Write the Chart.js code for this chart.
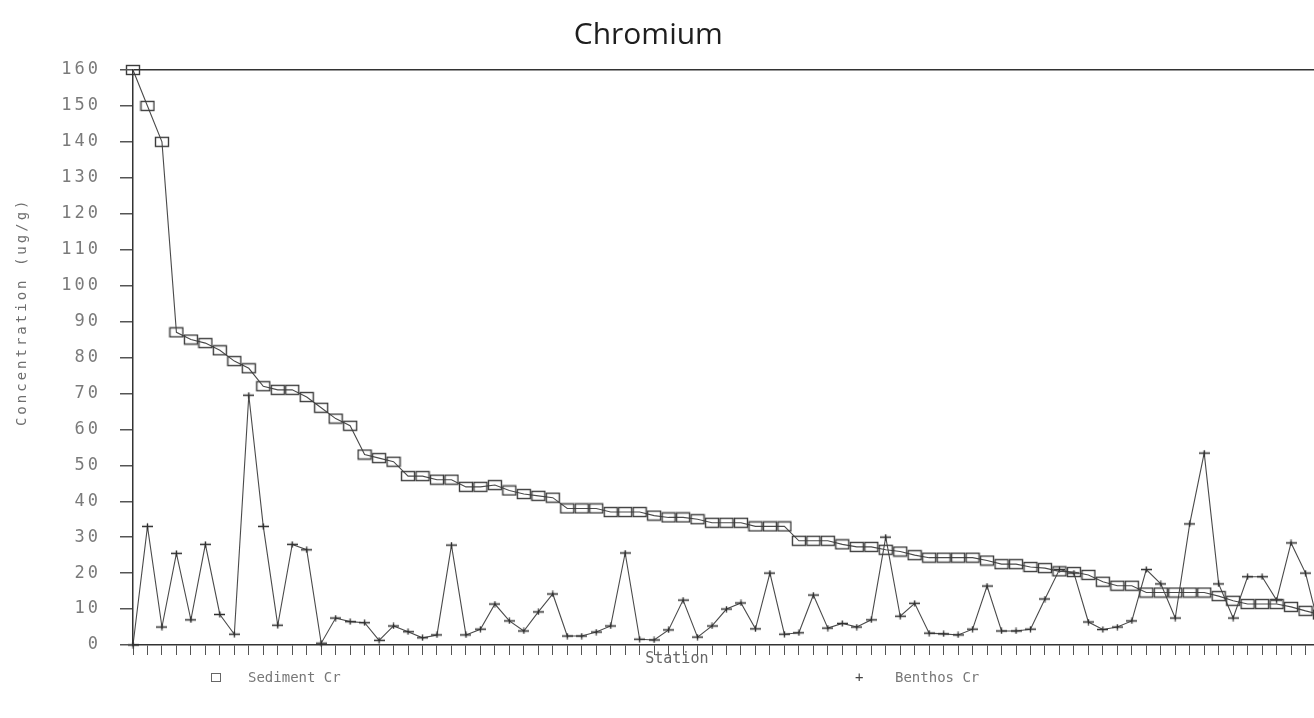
<!DOCTYPE html>
<html lang="en">
<head>
<meta charset="UTF-8">
<meta name="viewport" content="width=device-width, initial-scale=1.0">
<title>Chromium</title>
<style>
  html, body { margin: 0; padding: 0; background: #fff; overflow: hidden; }
  /* the scan is cut on the right, so the plot runs a few px past the window */
  #wrap { position: relative; width: 1320px; height: 718px; }
  #legend { position: absolute; left: 0; top: 669px; width: 100%; height: 18px;
            font-family: 'DejaVu Sans Mono', monospace; font-size: 14px; line-height: 16px; color: #777; }
  #legend span { position: absolute; top: 0; white-space: pre; }
  #legend .box { width: 8px; height: 7px; border: 1.3px solid #666; top: 4px; }
</style>
</head>
<body>
<div id="wrap">
  <canvas id="myChart"></canvas>
  <div id="legend"></div>
</div>

<script src="https://cdn.jsdelivr.net/npm/chart.js"></script>
<script>
// station numbers along the x axis
const stations = ['1','2','3','4','5','6','7','8','9','10','11','12','13','14','15','16','17','18','19','20',
  '21','22','23','24','25','26','27','28','29','30','31','32','33','34','35','36','37','38','39','40',
  '41','42','43','44','45','46','47','48','49','50','51','52','53','54','55','56','57','58','59','60',
  '61','62','63','64','65','66','67','68','69','70','71','72','73','74','75','76','77','78','79','80',
  '81','82','83']

// sediment Cr, ug/g (sorted high to low)
const sediment = [160, 150, 140, 87, 85, 84, 82, 79, 77, 72,
  71, 71, 69, 66, 63, 61, 53, 52, 51, 47,
  47, 46, 46, 44, 44, 44.5, 43, 42, 41.5, 41,
  38, 38, 38, 37, 37, 37, 36, 35.5, 35.5, 35,
  34, 34, 34, 33, 33, 33, 29, 29, 29, 28,
  27.3, 27.3, 26.5, 26, 25, 24.3, 24.3, 24.3, 24.3, 23.5,
  22.5, 22.5, 21.7, 21.4, 20.5, 20.3, 19.5, 17.6, 16.5, 16.5,
  14.6, 14.6, 14.6, 14.6, 14.6, 13.6, 12.3, 11.4, 11.4, 11.4,
  10.6, 9.5, 8.5]

// benthos Cr at the same stations
const benthos = [0, 33, 5, 25.5, 7, 28, 8.5, 3, 69.5, 33,
  5.5, 28, 26.5, 0.5, 7.5, 6.5, 6.2, 1.3, 5.3, 3.7,
  2, 2.8, 27.8, 2.8, 4.4, 11.4, 6.7, 3.9, 9.2, 14.2,
  2.5, 2.5, 3.6, 5.3, 25.6, 1.6, 1.4, 4.2, 12.5, 2.2,
  5.3, 10, 11.7, 4.5, 20, 3, 3.4, 13.9, 4.7, 6,
  5, 7, 30, 8, 11.6, 3.3, 3.1, 2.8, 4.4, 16.4,
  3.9, 3.9, 4.4, 12.8, 21, 20, 6.4, 4.3, 5, 6.7,
  21, 17, 7.5, 33.7, 53.4, 17, 7.5, 19, 19, 12.5,
  28.4, 20, 4]

// marker images: flat open box and a wide plus
function boxMark() {
  const c = document.createElement('canvas')
  c.width = 16; c.height = 12
  const g = c.getContext('2d')
  g.strokeStyle = '#3c3c3c'
  g.lineWidth = 1.4
  g.strokeRect(1.5, 1.5, 13, 9)
  return c
}
function plusMark() {
  const c = document.createElement('canvas')
  c.width = 11; c.height = 7
  const g = c.getContext('2d')
  g.strokeStyle = '#2e2e2e'
  g.lineWidth = 1.4
  g.beginPath()
  g.moveTo(0, 3.5); g.lineTo(11, 3.5)
  g.moveTo(5.5, 0.5); g.lineTo(5.5, 6.5)
  g.stroke()
  return c
}

// wide dot-matrix look for the y axis text (drawn after the datasets)
const spacing = {
  id: 'spacing',
  beforeDraw(chart) { chart.ctx.letterSpacing = '0px' },
  afterDatasetsDraw(chart) { chart.ctx.letterSpacing = '3px' },
  afterDraw(chart) { chart.ctx.letterSpacing = '0px' }
}

const ctx = document.getElementById('myChart')
const myChart = new Chart(ctx, {
  type: 'line',
  data: {
    labels: stations,
    datasets: [{
      label: 'Sediment Cr',
      data: sediment,
      borderColor: '#4a4a4a',
      borderWidth: 1.1,
      pointStyle: boxMark(),
      pointRadius: 6,
      tension: 0,
      fill: false,
      clip: false
    }, {
      label: 'Benthos Cr',
      data: benthos,
      borderColor: '#4a4a4a',
      borderWidth: 1.1,
      pointStyle: plusMark(),
      pointRadius: 5,
      tension: 0,
      fill: false,
      clip: false
    }]
  },
  options: {
    responsive: true,
    maintainAspectRatio: false,
    animation: false,
    events: [],
    layout: { autoPadding: false, padding: { left: 0, right: 0, top: 0, bottom: 51 } },
    plugins: {
      legend: { display: false },
      tooltip: { enabled: false },
      title: {
        display: true,
        text: 'Chromium   ',
        color: '#1e1e1e',
        font: { family: 'Open Sans', size: 30, weight: 'normal', lineHeight: 1.2 },
        padding: { top: 17, bottom: 17 }
      }
    },
    scales: {
      x: {
        offset: false,
        ticks: { display: false, autoSkip: false },
        grid: { drawOnChartArea: false, tickLength: 10, color: '#555', lineWidth: 1 },
        border: { color: '#333', width: 1.5 },
        title: {
          display: true,
          // trailing spaces pull the word left of the axis centre, as in the scan
          text: 'Station           ',
          color: '#666',
          font: { family: 'DejaVu Sans Mono', size: 15, lineHeight: 1 },
          padding: { top: -3, bottom: 0 }
        }
      },
      y: {
        min: 0,
        max: 160,
        afterFit(scale) { scale.width = 133 },
        ticks: {
          stepSize: 10,
          padding: 19,
          color: '#7a7a7a',
          font: { family: 'DejaVu Sans Mono', size: 17 },
          z: 1
        },
        grid: {
          z: 1,
          // only the 160 line is drawn: it is the top frame of the plot
          color: c => (c.tick && c.tick.value === 160) ? '#333' : 'rgba(0,0,0,0)',
          tickColor: '#555',
          tickLength: 13,
          lineWidth: 1.5
        },
        border: { z: 1, color: '#333', width: 1.5 },
        title: {
          display: true,
          text: '        Concentration (ug/g)',
          color: '#6e6e6e',
          font: { family: 'DejaVu Sans Mono', size: 14, lineHeight: 1.2 },
          padding: { top: 14, bottom: 0 }
        }
      }
    }
  },
  plugins: [spacing]
})

// legend row under the axis, same labels as the datasets
const legendPos = [{ mark: 211, text: 248 }, { mark: 855, text: 895 }]
const legend = document.getElementById('legend')
myChart.data.datasets.forEach((ds, i) => {
  const m = document.createElement('span')
  if (i === 0) {
    m.className = 'box'
  } else {
    m.textContent = '+'
    m.style.color = '#444'
  }
  m.style.left = legendPos[i].mark + 'px'
  legend.appendChild(m)
  const t = document.createElement('span')
  t.textContent = ds.label
  t.style.left = legendPos[i].text + 'px'
  legend.appendChild(t)
})
</script>
</body>
</html>
